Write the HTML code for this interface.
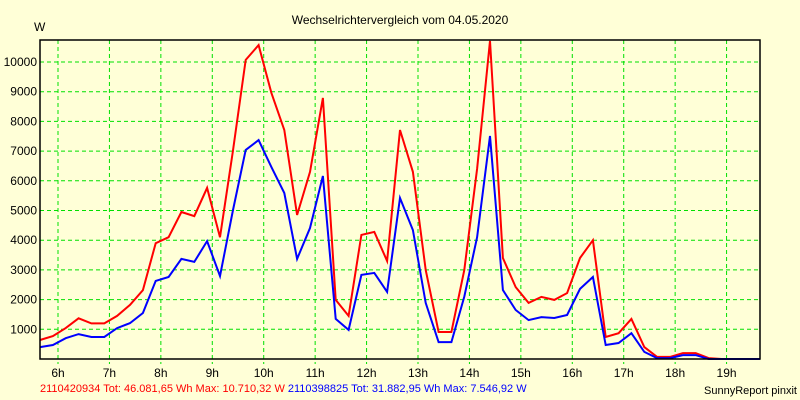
<!DOCTYPE html>
<html><head><meta charset="utf-8"><style>
body{margin:0;background:#ffffd7;}
svg{display:block;font-family:"Liberation Sans",sans-serif;}
</style></head><body>
<svg id="chart" width="800" height="400">
<rect width="800" height="400" fill="#ffffd7"/>
<text x="400" y="24" font-size="12" text-anchor="middle">Wechselrichtervergleich vom 04.05.2020</text>
<text x="34" y="31" font-size="12">W</text>
<g id="grid"></g>
<g id="series"></g>
<rect x="40" y="40" width="720" height="319" fill="none" stroke="#000" stroke-width="1.5"/>
<text y="392" font-size="11"><tspan x="40" fill="#ff0000">2110420934 Tot: 46.081,65 Wh Max: 10.710,32 W</tspan><tspan fill="#0000ff"> 2110398825 Tot: 31.882,95 Wh Max: 7.546,92 W</tspan></text>
<text x="797" y="394" font-size="11" text-anchor="end">SunnyReport pinxit</text>
</svg>
<script>
const yTicks=[1000,2000,3000,4000,5000,6000,7000,8000,9000,10000];
const hourTicks=[6,7,8,9,10,11,12,13,14,15,16,17,18,19];
const startHour=5.65, stepHour=0.25;
const redValues=[640,770,1040,1370,1200,1200,1450,1820,2320,3900,4100,4950,4810,5760,4100,7000,10070,10570,8960,7710,4850,6300,8790,1990,1450,4180,4280,3300,7710,6300,3000,910,910,3000,6400,10710,3400,2420,1890,2090,1990,2220,3400,4000,740,870,1350,400,70,70,200,200,30,0,0,0,0,0];
const blueValues=[400,470,700,840,740,740,1040,1210,1550,2630,2760,3370,3270,3970,2790,5000,7040,7370,6460,5590,3370,4410,6160,1350,980,2830,2900,2260,5420,4340,1890,570,570,2100,4100,7510,2320,1650,1310,1410,1380,1480,2360,2760,470,540,870,240,30,30,130,130,0,0,0,0,0];
const NS='http://www.w3.org/2000/svg';
const L=40,R=760,T=40,B=359;
const hMin=5.65,hMax=19.65;
function xs(h){return L+(h-hMin)/(hMax-hMin)*(R-L);}
function ys(v){return B-v*0.0297;}
const grid=document.getElementById('grid');
const svg=document.getElementById('chart');
yTicks.forEach(v=>{
 const l=document.createElementNS(NS,'line');
 l.setAttribute('x1',L);l.setAttribute('x2',R);l.setAttribute('y1',ys(v));l.setAttribute('y2',ys(v));
 l.setAttribute('stroke','#00e000');l.setAttribute('stroke-dasharray','4,3');
 
 
 grid.appendChild(l);
 const t=document.createElementNS(NS,'text');
 t.setAttribute('x',37);t.setAttribute('y',ys(v)+4);t.setAttribute('font-size','12');t.setAttribute('text-anchor','end');
 t.textContent=v;
 
 
 svg.appendChild(t);
});
hourTicks.forEach(h=>{
 const l=document.createElementNS(NS,'line');
 l.setAttribute('x1',xs(h));l.setAttribute('x2',xs(h));l.setAttribute('y1',T);l.setAttribute('y2',B+5);
 l.setAttribute('stroke','#00e000');l.setAttribute('stroke-dasharray','4,3');
 
 
 grid.appendChild(l);
 const t=document.createElementNS(NS,'text');
 t.setAttribute('x',xs(h));t.setAttribute('y',377);t.setAttribute('font-size','12');t.setAttribute('text-anchor','middle');
 t.textContent=h+'h';
 
 
 svg.appendChild(t);
});
function line(vals,color,name){
 const pts=vals.map((v,i)=>Math.min(xs(startHour+i*stepHour),R).toFixed(1)+','+ys(v).toFixed(1)).join(' ');
 const p=document.createElementNS(NS,'polyline');
 p.setAttribute('points',pts);p.setAttribute('fill','none');p.setAttribute('stroke',color);p.setAttribute('stroke-width','2');
 
 
 document.getElementById('series').appendChild(p);
}
line(redValues,'#ff0000','series-red-2110420934');
line(blueValues,'#0000ff','series-blue-2110398825');
</script>
</body></html>
